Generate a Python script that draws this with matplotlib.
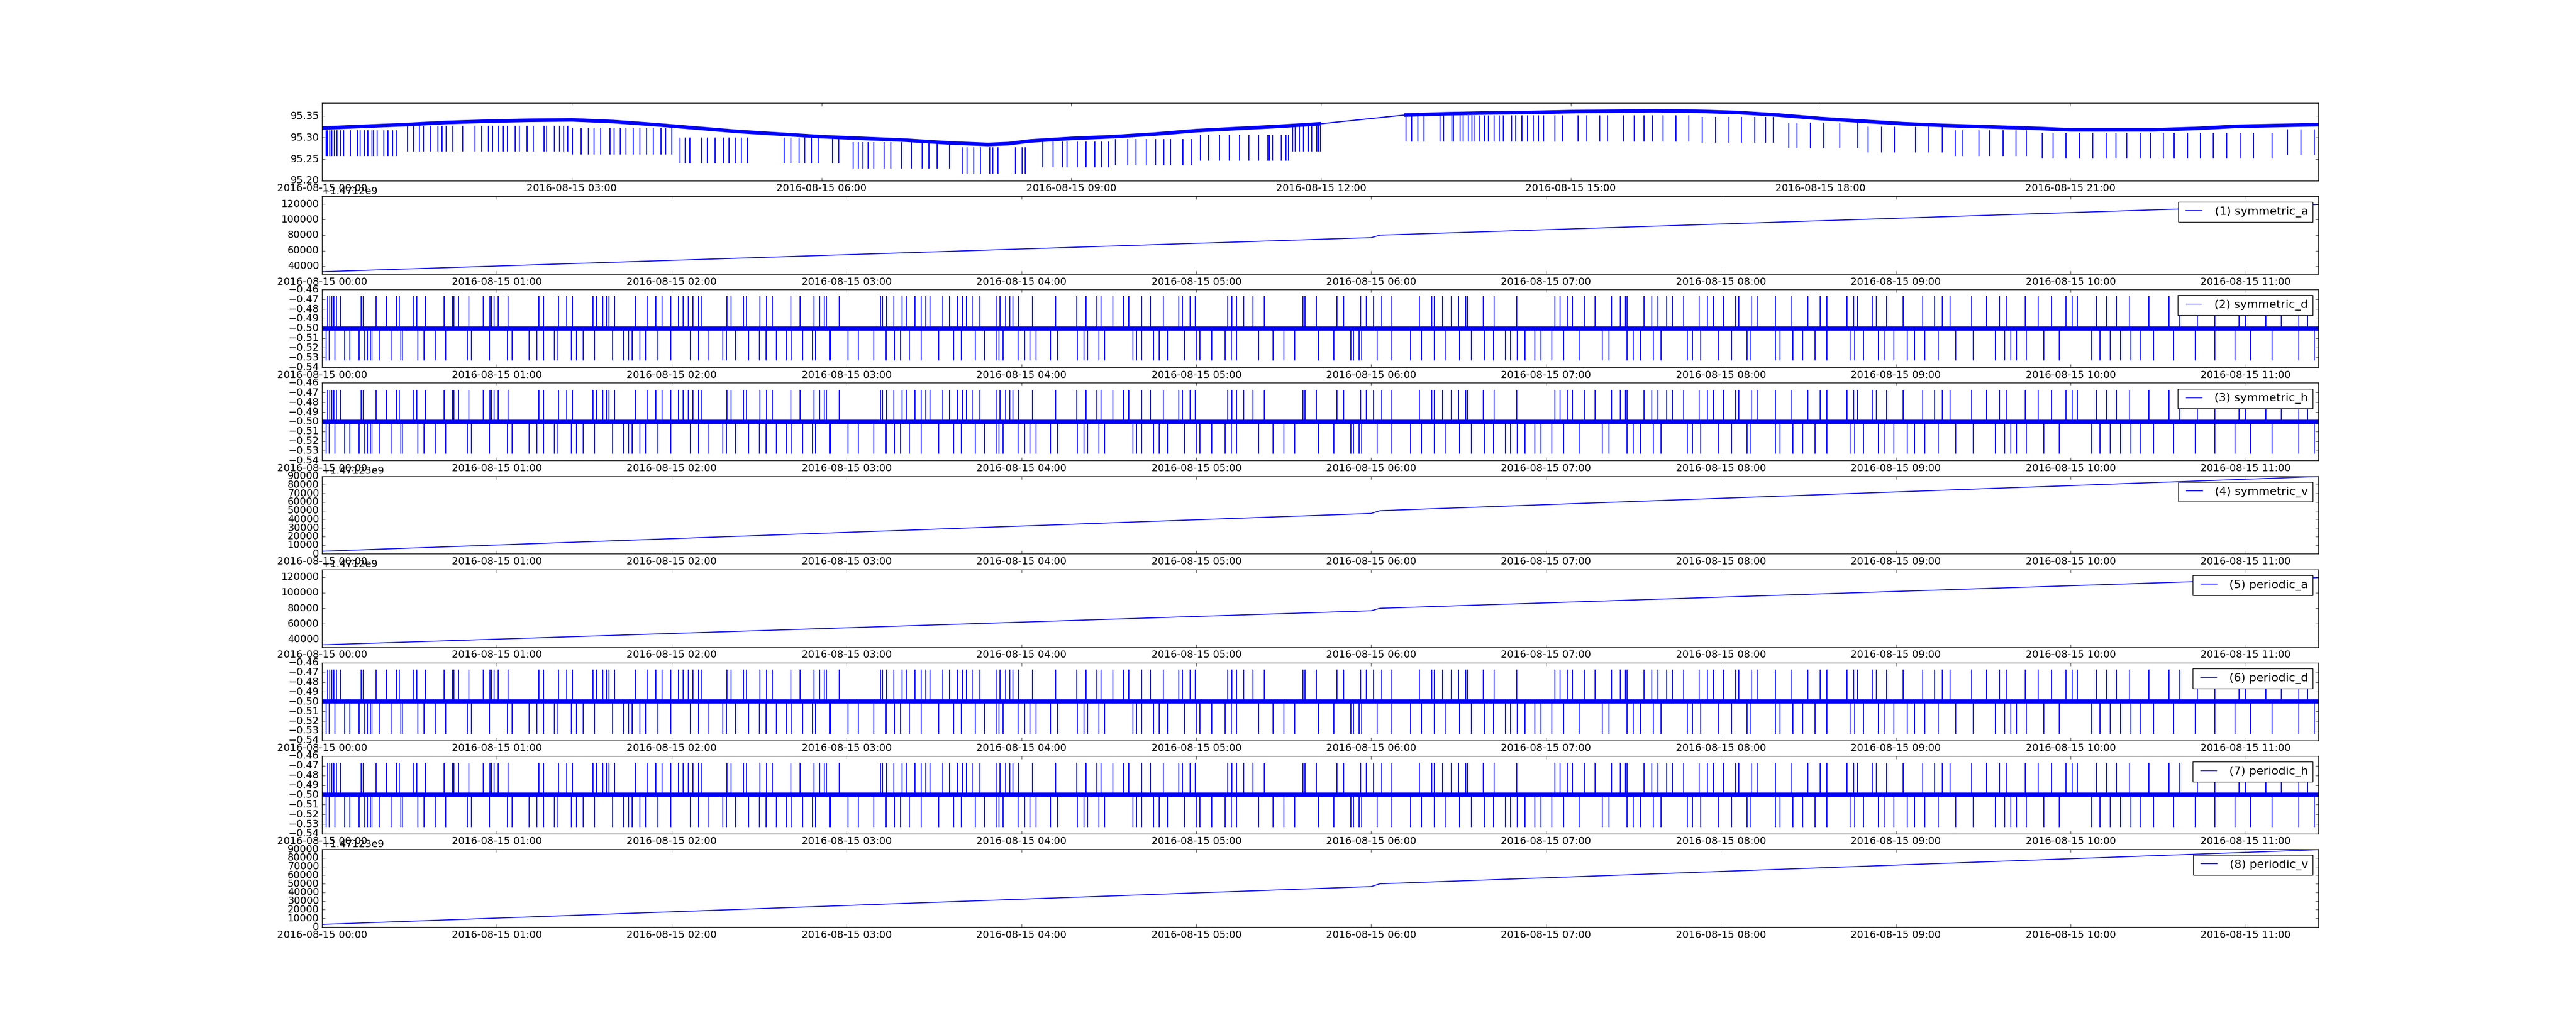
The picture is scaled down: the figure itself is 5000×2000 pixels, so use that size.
import numpy as np
import pandas as pd
import matplotlib
matplotlib.use("Agg")
import matplotlib.pyplot as plt
import matplotlib.dates as mdates
import matplotlib.ticker as mticker

plt.style.use("classic")
plt.rcParams["font.size"] = 14
plt.rcParams["figure.facecolor"] = "white"

day = pd.Timestamp("2016-08-15")

# --- top panel: slowly varying level with downward glitches (hours, value) ---
top_am_hours = [0, 0.5, 1, 1.5, 2, 2.5, 3, 3.5, 4, 4.5, 5, 5.5, 6, 6.5, 7, 7.5, 8, 8.25,
                8.5, 9, 9.5, 10, 10.5, 11, 11.5, 12]
top_am_vals = [95.322, 95.326, 95.330, 95.335, 95.338, 95.340, 95.341, 95.337, 95.330,
               95.322, 95.314, 95.308, 95.302, 95.298, 95.294, 95.288, 95.284, 95.286,
               95.292, 95.298, 95.302, 95.308, 95.316, 95.321, 95.326, 95.332]
top_pm_hours = [13, 13.5, 14, 14.5, 15, 15.5, 16, 16.5, 17, 17.5, 18, 18.5, 19, 19.5, 20,
                20.5, 21, 21.5, 22, 22.5, 23, 23.5, 23.98]
top_pm_vals = [95.352, 95.355, 95.357, 95.358, 95.360, 95.361, 95.362, 95.361, 95.358,
               95.352, 95.344, 95.338, 95.332, 95.328, 95.325, 95.322, 95.318, 95.318,
               95.318, 95.321, 95.326, 95.328, 95.330]

# glitch groups: (times in hours, lowest value reached)
top_glitches = [
    ([0.05, 0.06, 0.07, 0.09, 0.11, 0.12, 0.15, 0.18, 0.22, 0.26, 0.34, 0.43, 0.46, 0.51,
      0.55, 0.60, 0.62, 0.66, 0.74, 0.79, 0.85, 0.89], 95.257),
    ([1.03, 1.10, 1.17, 1.22, 1.30, 1.39, 1.44, 1.49, 1.57, 1.69, 1.84, 1.92, 2.00, 2.05,
      2.12, 2.18, 2.23, 2.32, 2.37, 2.46, 2.54, 2.67, 2.70, 2.79, 2.85, 2.90, 2.95], 95.268),
    ([3.01, 3.11, 3.20, 3.27, 3.35, 3.46, 3.51, 3.58, 3.65, 3.74, 3.82, 3.90, 3.98, 4.07,
      4.13, 4.20], 95.261),
    ([4.30, 4.36, 4.42, 4.56, 4.63, 4.72, 4.82, 4.89, 4.96, 5.04, 5.11, 5.55, 5.63, 5.73,
      5.80, 5.88, 5.96, 6.13, 6.21], 95.240),
    ([6.38, 6.44, 6.50, 6.56, 6.63, 6.75, 6.83, 6.96, 7.08, 7.21, 7.29, 7.39, 7.54], 95.229),
    ([7.70, 7.75, 7.83, 7.91, 8.02, 8.06, 8.12, 8.33, 8.41, 8.45], 95.217),
    ([8.66, 8.78, 8.89, 8.95, 9.07, 9.18, 9.28, 9.36, 9.45], 95.231),
    ([9.53, 9.68, 9.78, 9.90, 10.01, 10.11, 10.19, 10.34, 10.44], 95.236),
    ([10.55, 10.65, 10.78, 10.90, 11.02, 11.13, 11.25, 11.36, 11.38, 11.42, 11.52, 11.58,
      11.61], 95.246),
    ([11.66, 11.69, 11.74, 11.79, 11.85, 11.89, 11.95, 11.97, 11.99], 95.268),
    ([13.02, 13.09, 13.16, 13.24, 13.43, 13.47, 13.57, 13.59, 13.67, 13.71, 13.77, 13.81,
      13.84, 13.90, 13.96, 14.01, 14.08, 14.14, 14.19, 14.29, 14.34, 14.41, 14.48, 14.55,
      14.61, 14.67, 14.81, 14.90, 15.09, 15.19, 15.35, 15.44, 15.63, 15.76, 15.88, 15.98,
      16.11, 16.26, 16.42], 95.291),
    ([16.58, 16.74, 16.90, 17.05, 17.21, 17.34, 17.43], 95.288),
    ([17.62, 17.72, 17.88, 18.04, 18.23, 18.45], 95.275),
    ([18.57, 18.73, 18.89, 19.14, 19.30, 19.46], 95.265),
    ([19.62, 19.71, 19.90, 20.03, 20.19, 20.35, 20.47], 95.257),
    ([20.66, 20.79, 20.95, 21.11, 21.27, 21.43, 21.55, 21.68, 21.84, 21.96, 22.12, 22.25,
      22.41, 22.56, 22.72, 22.88, 23.04, 23.20, 23.42], 95.251),
    ([23.61, 23.77, 23.93], 95.259),
]

# --- ramp signals (hours, value above offset) ---
ramp_hours = [0, 6.0, 6.05, 11.42]
sym_a_vals = [33000, 76800, 80000, 119500]
sym_v_vals = [3000, 46800, 50000, 89500]
a_offset = 1.4712e9
v_offset = 1.47123e9

# --- d / h signals: level -0.50 with glitches (minutes) ---
dh_level = -0.500
dh_up_peak = -0.467
dh_down_peak = -0.533
dh_end_min = 685
up_minutes = [1.9, 2.7, 3.4, 4.1, 4.9, 6.4, 13.5, 14.1, 18.5, 22.1, 25.6, 26.5, 31.3, 32.6,
              35.6, 41.9, 44.7, 45.2, 46.8, 50.4, 55.4, 57.6, 58.2, 59.1, 60.4, 63.9, 74.5,
              76, 81.2, 83.9, 85.9, 93, 94.2, 96.4, 97.5, 98.5, 100.4, 107.6, 111.6, 114.5,
              116.7, 119.7, 122.4, 123.9, 125.6, 127.3, 129.3, 130.1, 139, 140.4, 144.6,
              145.6, 150.2, 152.6, 154.5, 160.9, 164.1, 168.9, 170.8, 172.3, 173, 177.5,
              191.7, 192.3, 193.8, 196.3, 199, 200.4, 203.4, 205.6, 207.1, 208.6, 213, 215.3,
              218.2, 219.7, 221.2, 223.1, 225.7, 231.6, 232.6, 234.5, 236, 237, 239, 243.7,
              251.8, 259, 262.1, 265.8, 267.3, 271.4, 274.8, 275.1, 276.8, 281.3, 284.2,
              288.6, 293.9, 295.3, 297.9, 299.7, 310.8, 312.1, 313.7, 316.2, 319.4, 323.3,
              336.5, 337.3, 341.2, 348.3, 350.6, 356.4, 358.4, 360.8, 363.6, 366.8, 376.6,
              380.7, 381.6, 384.4, 387.5, 389.9, 392.4, 393.1, 398.4, 402.1, 409.9, 423,
              424.8, 427.3, 429.1, 433.1, 436.8, 442.4, 445.5, 447.2, 447.7, 453.6, 456.2,
              458.3, 461.3, 463.3, 467.3, 472.5, 475.3, 477.4, 480.9, 485.1, 486.2, 490.6,
              492.7, 498.7, 504.4, 509.9, 514.1, 516.3, 523.3, 525.6, 526.8, 531.9, 533.4,
              536.9, 542.5, 549.2, 553.3, 556, 558.6, 566, 571.1, 575.6, 577.9, 584.4, 588.9,
              593.4, 598.3, 600.5, 602.2, 608.8, 612.3, 615.7, 620.1, 626.9, 633.7, 637.5,
              643.5, 649.5, 657.8, 660.1, 666.9, 672.2, 678.2, 681.2]
down_minutes = [1.5, 2.4, 4.4, 7.7, 9.6, 12.7, 14.7, 15.6, 16.6, 17.2, 19.7, 23.7, 27.1,
                27.6, 32.9, 35, 39, 42.4, 49.8, 51.3, 57.5, 63.7, 65.3, 71.1, 73.8, 76, 79.7,
                80.9, 85.6, 87.4, 89.6, 93.5, 99.7, 103.4, 105.2, 106.4, 109, 111.1, 115.3,
                119.7, 126.4, 129.2, 132.7, 137.5, 138.7, 141.9, 146.4, 150.1, 152.3, 156,
                159.4, 161.2, 164.9, 168.3, 169.3, 174.2, 174.5, 180.4, 184.1, 189.3, 193.5,
                196.4, 198.5, 201.5, 205.6, 211.6, 216.7, 219.3, 224.1, 227.3, 231.6, 232.3,
                233.7, 238.8, 241.2, 242.8, 245, 250, 252.5, 259.2, 261.4, 262.7, 266.5,
                268.5, 278.3, 279.5, 281.3, 285.4, 287.2, 290.1, 296, 300.2, 301.2, 305.3,
                309.9, 312, 313.7, 321.3, 326.3, 330, 333.7, 341.8, 347.1, 353, 353.9, 355.8,
                356.8, 362.1, 366.8, 373.6, 377.3, 381.7, 385.4, 390.4, 394.3, 399, 402,
                406.1, 407.8, 410.1, 412.7, 416.1, 418.2, 421.9, 426, 431.4, 439.3, 441.5,
                447.7, 449.9, 452.4, 456.8, 459.5, 468.5, 470.3, 473.1, 479.1, 483.6, 489,
                490, 498.7, 500.2, 504.7, 508.1, 512.3, 516.3, 524.3, 525.9, 528.9, 534.1,
                536, 539.4, 543.9, 546.4, 550, 554.5, 560.5, 566.6, 574.1, 577.4, 579.5,
                581.4, 584.7, 590.7, 596, 607.3, 610, 613.6, 617.1, 620.6, 623.9, 628.4,
                635.4, 642.7, 649.5, 656.3, 661.6, 669.1, 678.2, 683.5]

labels = ["(1) symmetric_a", "(2) symmetric_d", "(3) symmetric_h", "(4) symmetric_v",
          "(5) periodic_a", "(6) periodic_d", "(7) periodic_h", "(8) periodic_v"]


def tnum(hours):
    return mdates.date2num(day + pd.to_timedelta(np.asarray(hours, dtype=float), unit="h"))


fig, axes = plt.subplots(9, 1, figsize=(50, 20), dpi=100)
fig.subplots_adjust(left=0.125, right=0.9, bottom=0.1, top=0.9, hspace=0.2)
fmt = mdates.DateFormatter("%Y-%m-%d %H:%M")

# top panel
ax = axes[0]
ax.plot(tnum(top_am_hours), top_am_vals, color="b", lw=5, solid_capstyle="butt")
ax.plot(tnum(top_pm_hours), top_pm_vals, color="b", lw=5, solid_capstyle="butt")
ax.plot(tnum([top_am_hours[-1], top_pm_hours[0]]), [top_am_vals[-1], top_pm_vals[0]],
        color="b", lw=1.5)
for hrs, low in top_glitches:
    ax.vlines(tnum(hrs), low, low + 0.06, color="b", lw=1.5)
ax.set_xlim(tnum(0), tnum(23.98))
ax.set_ylim(95.20, 95.38)
ax.yaxis.set_major_formatter(mticker.ScalarFormatter(useOffset=False))
ax.yaxis.set_major_locator(mticker.MultipleLocator(0.05))
ax.xaxis.set_major_locator(mdates.HourLocator(byhour=range(0, 24, 3)))
ax.xaxis.set_major_formatter(fmt)

for i, ax in enumerate(axes[1:]):
    kind = labels[i].split("_")[-1]
    if kind in ("a", "v"):
        off = a_offset if kind == "a" else v_offset
        vals = sym_a_vals if kind == "a" else sym_v_vals
        ax.plot(tnum(ramp_hours), np.array(vals) + off, color="b", lw=1.3, label=labels[i])
        ax.yaxis.set_major_formatter(mticker.ScalarFormatter(useOffset=off))
        if kind == "a":
            ax.set_ylim(off + 30000, off + 130000)
            ax.yaxis.set_major_locator(mticker.MultipleLocator(20000))
        else:
            ax.set_ylim(off, off + 90000)
            ax.yaxis.set_major_locator(mticker.MultipleLocator(10000))
    else:
        ax.plot(tnum([0, dh_end_min / 60]), [dh_level, dh_level], color="b", lw=6,
                solid_capstyle="butt")
        ax.vlines(tnum(np.array(up_minutes) / 60), dh_level, dh_up_peak, color="b", lw=1.4)
        ax.vlines(tnum(np.array(down_minutes) / 60), dh_down_peak, dh_level, color="b", lw=1.4)
        ax.plot([], [], color="b", label=labels[i])
        ax.set_ylim(-0.54, -0.46)
        ax.yaxis.set_major_locator(mticker.MultipleLocator(0.01))
    ax.set_xlim(tnum(0), tnum(dh_end_min / 60))
    ax.xaxis.set_major_locator(mdates.HourLocator())
    ax.xaxis.set_major_formatter(fmt)
    ax.legend(loc="upper right", fontsize=16)

fig.savefig("out.png", dpi=100, facecolor="white")
